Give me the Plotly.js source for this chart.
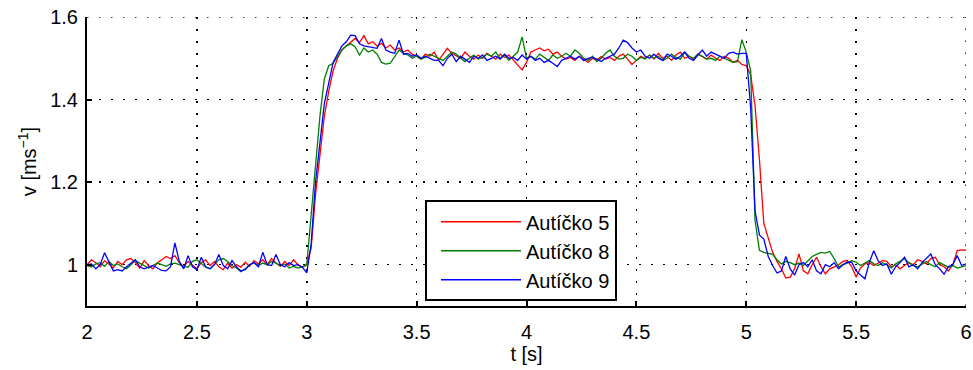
<!DOCTYPE html>
<html><head><meta charset="utf-8">
<script src="https://cdn.plot.ly/plotly-3.0.1.min.js"></script>
<style>body{margin:0;background:#fff}</style>
</head><body><div id="chart" style="width:973px;height:370px"></div>
<script>
// sampling grid: 2.00 s .. 6.00 s, step 0.02 s
const sampleTimes = Array.from({length: 201}, (_, i) => +(2 + i * 0.02).toFixed(2));

const seriesNames = ['Autíčko 5', 'Autíčko 8', 'Autíčko 9'];

const speedCar5 = [
1.000,1.012,1.005,0.995,1.010,1.002,0.992,1.008,1.000,1.012,
1.015,1.005,0.992,1.010,0.998,0.990,1.004,1.012,1.020,1.015,
1.022,1.005,0.995,1.008,1.000,0.990,1.005,1.012,0.998,1.008,
0.995,0.988,1.004,0.992,1.000,0.994,1.006,0.996,1.010,1.002,
1.012,1.000,1.015,1.004,0.996,1.008,0.998,1.012,1.000,0.994,
1.000,1.040,1.170,1.260,1.360,1.420,1.470,1.500,1.520,1.530,
1.540,1.548,1.538,1.555,1.535,1.540,1.530,1.536,1.525,1.532,
1.520,1.525,1.515,1.520,1.510,1.505,1.498,1.510,1.505,1.515,
1.495,1.510,1.524,1.512,1.505,1.500,1.515,1.505,1.498,1.508,
1.500,1.512,1.505,1.498,1.510,1.502,1.508,1.496,1.485,1.472,
1.490,1.515,1.520,1.525,1.518,1.522,1.510,1.515,1.505,1.498,
1.502,1.495,1.505,1.498,1.490,1.500,1.496,1.504,1.498,1.502,
1.495,1.505,1.510,1.498,1.485,1.495,1.505,1.500,1.508,1.498,
1.512,1.500,1.505,1.495,1.508,1.515,1.500,1.505,1.498,1.510,
1.505,1.498,1.508,1.500,1.495,1.505,1.500,1.490,1.495,1.485,
1.482,1.460,1.385,1.255,1.100,1.065,1.030,1.008,0.990,0.968,
0.970,0.990,1.026,0.985,0.978,1.000,1.018,0.995,0.978,0.990,
0.994,1.000,1.008,1.010,0.995,0.970,0.992,1.002,1.005,0.998,
1.004,1.010,1.008,0.995,1.000,0.990,0.998,1.005,1.000,1.012,
1.008,1.002,1.015,1.018,1.000,0.995,0.985,1.000,1.034,1.036,
1.035];

const speedCar8 = [
0.998,0.995,1.002,1.005,0.996,1.008,0.998,1.002,0.995,0.990,
1.000,1.010,1.004,0.998,0.992,0.998,1.004,1.000,0.996,1.002,
1.004,1.000,0.996,0.994,1.008,1.012,1.004,0.994,0.990,1.002,
1.012,1.015,1.008,0.998,0.992,0.983,0.990,1.000,1.005,0.998,
1.004,1.000,1.008,1.004,0.998,1.002,0.992,0.996,0.992,0.995,
1.000,1.120,1.250,1.360,1.450,1.482,1.488,1.505,1.520,1.530,
1.535,1.528,1.508,1.525,1.515,1.520,1.510,1.490,1.486,1.488,
1.505,1.520,1.512,1.508,1.500,1.505,1.498,1.502,1.510,1.505,
1.500,1.495,1.505,1.515,1.510,1.500,1.492,1.500,1.508,1.498,
1.502,1.510,1.505,1.515,1.500,1.508,1.495,1.505,1.515,1.552,
1.500,1.505,1.498,1.510,1.502,1.495,1.508,1.500,1.505,1.512,
1.505,1.520,1.512,1.500,1.495,1.505,1.492,1.500,1.512,1.520,
1.505,1.498,1.500,1.510,1.505,1.495,1.502,1.498,1.508,1.500,
1.505,1.495,1.500,1.510,1.502,1.498,1.515,1.505,1.500,1.510,
1.505,1.498,1.500,1.495,1.505,1.500,1.495,1.490,1.492,1.545,
1.515,1.470,1.107,1.035,1.030,1.028,1.025,1.012,1.002,1.008,
1.005,1.000,1.004,0.998,1.010,1.020,1.025,1.030,1.028,1.032,
1.015,0.995,1.000,1.004,1.010,1.006,0.998,1.005,1.010,1.002,
0.998,1.005,1.000,0.992,1.002,1.008,1.015,1.005,0.998,0.995,
1.002,1.008,1.000,0.995,1.005,1.000,0.994,0.998,0.992,0.995,
0.998];

const speedCar9 = [
1.000,1.002,0.990,1.000,1.029,1.005,0.985,0.988,0.985,0.995,
1.004,1.012,0.995,0.990,0.994,0.998,0.992,0.986,0.985,0.995,
1.053,1.008,0.990,1.022,0.995,0.988,1.018,0.995,0.990,1.000,
1.025,0.998,0.990,1.010,0.995,0.985,0.988,1.000,1.005,0.995,
1.030,1.000,0.998,1.025,1.000,0.995,1.005,0.998,1.000,0.994,
0.980,1.050,1.200,1.300,1.390,1.440,1.490,1.510,1.530,1.540,
1.556,1.555,1.535,1.530,1.528,1.526,1.524,1.548,1.520,1.515,
1.512,1.544,1.510,1.512,1.505,1.508,1.500,1.505,1.500,1.495,
1.495,1.482,1.500,1.510,1.492,1.505,1.498,1.490,1.505,1.500,
1.508,1.495,1.500,1.505,1.498,1.510,1.500,1.502,1.495,1.508,
1.498,1.505,1.495,1.500,1.490,1.495,1.488,1.480,1.495,1.500,
1.505,1.498,1.505,1.495,1.500,1.502,1.498,1.492,1.500,1.505,
1.510,1.525,1.544,1.538,1.525,1.515,1.520,1.505,1.500,1.510,
1.500,1.495,1.510,1.505,1.498,1.505,1.515,1.500,1.495,1.508,
1.520,1.505,1.515,1.510,1.505,1.500,1.512,1.515,1.510,1.512,
1.512,1.380,1.130,1.072,1.062,1.020,0.998,0.980,0.985,1.020,
0.990,0.975,1.000,1.005,0.995,1.012,0.985,0.978,1.000,0.995,
1.005,0.990,1.000,1.006,1.006,0.985,0.975,0.966,1.005,1.034,
1.010,0.998,1.002,0.977,0.995,1.005,1.018,0.995,1.000,0.990,
1.005,1.015,1.026,1.000,0.990,0.977,0.995,1.000,1.022,0.998,
1.002];

const xTicks = [2, 2.5, 3, 3.5, 4, 4.5, 5, 5.5, 6];
const xTickText = ['2', '2.5', '3', '3.5', '4', '4.5', '5', '5.5', '6'];
const yTicks = [1, 1.2, 1.4, 1.6];
const yTickText = ['1', '1.2', '1.4', '1.6'];

const colors = ['#ff0000', '#008000', '#0000ff'];
const allSpeeds = [speedCar5, speedCar8, speedCar9];

const traces = allSpeeds.map((ys, i) => ({
  x: sampleTimes, y: ys, type: 'scatter', mode: 'lines', name: seriesNames[i],
  line: {color: colors[i], width: 1.3}
}));

const font = {family: 'Liberation Sans, Arial, sans-serif', size: 20, color: '#000'};
const gridDash = '1.5px,10.5px';
const axisCommon = {
  showline: true, linecolor: '#000', linewidth: 2, mirror: false,
  ticks: 'inside', ticklen: 5, tickwidth: 2, tickcolor: '#000',
  showgrid: true, gridcolor: '#000', gridwidth: 1.5, griddash: gridDash,
  zeroline: false, tickfont: font
};

const layout = {
  width: 973, height: 370,
  margin: {l: 87, r: 7, t: 17, b: 64},
  paper_bgcolor: '#fff', plot_bgcolor: '#fff',
  font: font,
  showlegend: true,
  xaxis: Object.assign({}, axisCommon, {
    range: [2, 6], tickmode: 'array', tickvals: xTicks, ticktext: xTickText,
    ticklabelstandoff: 7,
    title: {text: 't [s]', font: font, standoff: 4}
  }),
  yaxis: Object.assign({}, axisCommon, {
    range: [0.9, 1.6], tickmode: 'array', tickvals: yTicks, ticktext: yTickText,
    ticklabelstandoff: 3,
    title: {text: 'v [ms<sup>−1</sup>]', font: font, standoff: 8}
  }),
  shapes: [
    {type: 'line', layer: 'below', xref: 'paper', x0: 0, x1: 1, yref: 'y', y0: yTicks[yTicks.length - 1], y1: yTicks[yTicks.length - 1],
     line: {color: '#000', width: 1.5, dash: gridDash}},
    {type: 'line', layer: 'below', xref: 'x', x0: xTicks[xTicks.length - 1], x1: xTicks[xTicks.length - 1], yref: 'paper', y0: 0, y1: 1,
     line: {color: '#000', width: 1.5, dash: gridDash}}
  ],
  legend: {
    x: 0.3845, y: 0.366, xanchor: 'left', yanchor: 'top',
    bgcolor: '#fff', bordercolor: '#000', borderwidth: 2,
    font: font, itemwidth: 80, indentation: 9, tracegroupgap: 0
  }
};

Plotly.newPlot('chart', traces, layout, {staticPlot: true, displayModeBar: false});
</script>
</body></html>
